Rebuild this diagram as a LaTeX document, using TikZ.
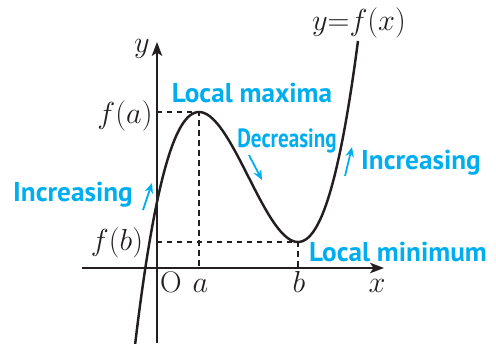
\documentclass[tikz,border=0pt]{standalone}
\usepackage{fontspec}
\usepackage{tikz}
\usetikzlibrary{arrows.meta}
\newfontfamily\cuefont{PT Sans}
\newfontfamily\cuecond[FakeStretch=0.8]{PT Sans}
\definecolor{Ink}{HTML}{231F20}
\definecolor{Cue}{HTML}{00AEEF}

\tikzset{
  axis/.style={Ink, line width=0.9pt, -{Stealth[length=2.8mm,width=2.1mm,inset=0.7mm]}},
  guide/.style={Ink, line width=0.6pt, dash pattern=on 1.1mm off 0.9mm},
  graph/.style={Ink, line width=1.4pt},
  mathlbl/.style={font=\fontsize{17}{20}\selectfont, text=Ink, inner sep=0pt},
  cue/.style={font=\cuefont\bfseries\fontsize{15.5}{18}\selectfont, text=Cue, inner sep=0pt},
  cuearrow/.style={Cue, line width=1pt, -{Stealth[length=2mm,width=1.7mm]}}
}

\begin{document}
\begin{tikzpicture}[x=1cm, y=1cm]
\useasboundingbox (-3.14,-1.5) rectangle (6.78,5.36);

% Axes
\coordinate (O) at (0,0);
\coordinate (xL) at (-1.5,0);
\coordinate (xR) at (4.54,0);
\coordinate (yB) at (0,-1.5);
\coordinate (yT) at (0,4.52);
\draw[axis] (xL) -- (xR);
\draw[axis] (yB) -- (yT);

% Extrema and guides
\coordinate (pMax) at (0.84,3.12);
\coordinate (pMin) at (2.82,0.52);
\coordinate (fa) at (0,3.12);
\coordinate (fb) at (0,0.52);
\coordinate (aX) at (0.84,0);
\coordinate (bX) at (2.82,0);
\draw[guide] (fa) -- (pMax) -- (aX);
\draw[guide] (fb) -- (pMin) -- (bX);

% Cubic
\draw[graph] plot[domain=-0.44:4.02, samples=90, smooth]
  (\x, {2.01*(\x*\x*\x/3 - 1.83*\x*\x + 2.3688*\x) + 1.3188});

% Axis labels
\node[mathlbl, anchor=base] (lO) at (0.28,-0.48) {O};
\node[mathlbl, anchor=base] (la) at (0.87,-0.48) {$a$};
\node[mathlbl, anchor=base] (lb) at (2.84,-0.48) {$b$};
\node[mathlbl, anchor=base] (lx) at (4.4,-0.48) {$x$};
\node[mathlbl] (ly) at (-0.3,4.38) {$y$};
\node[mathlbl] (lfa) at (-0.64,3.04) {$f(a)$};
\node[mathlbl] (lfb) at (-0.8,0.5) {$f(b)$};
\node[mathlbl] (lf) at (4.04,4.9) {$y{=}f(x)$};

% Blue notes
\node[cue] (nMax) at (1.9,3.5) {Local maxima};
\node[cue] (nMin) at (4.82,0.32) {Local minimum};
\node[cue] (nIncL) at (-1.68,1.46) {Increasing};
\node[cue] (nIncR) at (5.28,2.1) {Increasing};
\node[cue, font=\cuecond\bfseries\fontsize{15}{18}\selectfont] (nDec) at (2.6,2.54) {Decreasing};

\coordinate (dTail) at (1.84,2.26);
\coordinate (dHead) at (2.1,1.76);
\coordinate (iTailL) at (-0.28,1.16);
\coordinate (iHeadL) at (-0.1,1.7);
\coordinate (iTailR) at (3.76,1.84);
\coordinate (iHeadR) at (3.9,2.42);
\draw[cuearrow] (dTail) -- (dHead);
\draw[cuearrow] (iTailL) -- (iHeadL);
\draw[cuearrow] (iTailR) -- (iHeadR);

\end{tikzpicture}
\end{document}
